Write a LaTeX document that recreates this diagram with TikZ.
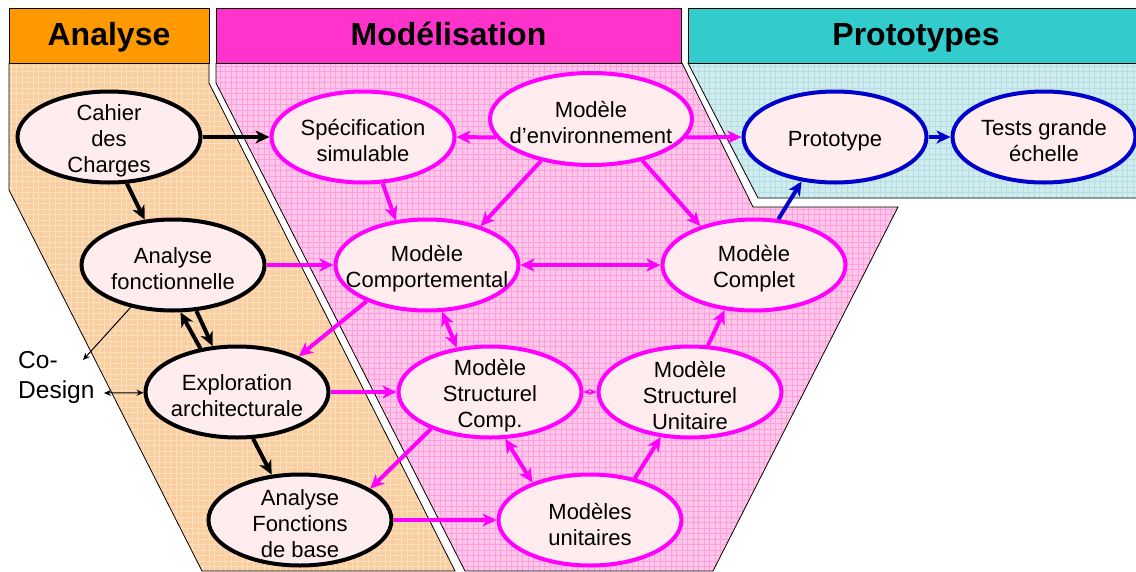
\documentclass[tikz,border=0pt]{standalone}
\usepackage{fontspec}
\setmainfont{Liberation Sans}
\usetikzlibrary{shapes.geometric, arrows.meta}

\definecolor{orangeh}{RGB}{255,153,0}
\definecolor{roseh}{RGB}{255,51,204}
\definecolor{turqh}{RGB}{51,204,204}
\definecolor{fondana}{RGB}{250,206,158}
\definecolor{grilleana}{RGB}{252,224,192}
\definecolor{fondmod}{RGB}{255,200,234}
\definecolor{grillemod}{RGB}{255,158,220}
\definecolor{fondproto}{RGB}{208,236,238}
\definecolor{grilleproto}{RGB}{180,222,226}
\definecolor{fondnoeud}{RGB}{255,236,238}
\definecolor{rosevif}{RGB}{255,0,255}
\definecolor{bleuvif}{RGB}{0,0,204}

\begin{document}
\begin{tikzpicture}[
    x=1pt, y=-1pt,
    zone/.style 2 args={draw=black, line width=0.8pt, fill=#1,
        path picture={\draw[#2, line width=0.5pt, step=5.5pt] (path picture bounding box.south west) grid (path picture bounding box.north east);}},
    entete/.style={rectangle, draw, line width=0.8pt, minimum height=55pt, inner sep=0pt, text height=24pt, text depth=5pt, font=\fontsize{32}{36}\selectfont\bfseries},
    etape/.style={ellipse, draw, line width=4pt, fill=fondnoeud, minimum width=183pt, minimum height=91pt, inner sep=0pt},
    txt/.style={align=center, inner sep=0pt, yshift=-4pt, font=\fontsize{22}{26}\selectfont},
    arrow/.style={line width=4pt, -{Stealth[length=14pt, width=13pt, inset=4pt]}},
    darrow/.style={line width=4pt, {Stealth[length=14pt, width=13pt, inset=4pt]}-{Stealth[length=14pt, width=13pt, inset=4pt]}},
    fine/.style={line width=1pt, -{Stealth[length=7pt, width=6pt]}},
    dfine/.style={line width=1pt, {Stealth[length=7pt, width=6pt]}-{Stealth[length=7pt, width=6pt]}}
]
\useasboundingbox (0,0) rectangle (1136,571);

% Zones
\path [zone={fondana}{grilleana}] (9,63) -- (209,63) -- (209,83) -- (455,571) -- (202,571) -- (9,190) -- cycle;
\path [zone={fondmod}{grillemod}] (216,63) -- (682,63) -- (753,207) -- (898,207) -- (713,571) -- (465,571) -- (216,83) -- cycle;
\path [zone={fondproto}{grilleproto}] (688,63) -- (1144,63) -- (1144,198) -- (758,198) -- cycle;

\node (hana) [entete, fill=orangeh, minimum width=200pt] at (109,35.5) {Analyse};
\node (hmod) [entete, fill=roseh, minimum width=465pt] at (448.5,35.5) {Modélisation};
\node (hproto) [entete, fill=turqh, minimum width=456pt] at (916,35.5) {Prototypes};

% Nodes
\node (cdc) [etape, draw=black, label={[txt]center:Cahier\\des\\Charges}] at (109,137) {};
\node (af) [etape, draw=black, label={[txt]center:Analyse\\fonctionnelle}] at (173,265) {};
\node (expl) [etape, draw=black, label={[txt]center:Exploration\\architecturale}] at (237,392) {};
\node (afb) [etape, draw=black, label={[txt]center:Analyse\\Fonctions\\de base}] at (300,520) {};

\node (spec) [etape, draw=rosevif, label={[txt]center:Spécification\\simulable}] at (363,137) {};
\node (env) [etape, draw=rosevif, minimum width=202pt, minimum height=92pt, label={[txt]center:Modèle\\d’environnement}] at (591,119) {};
\node (mc) [etape, draw=rosevif, label={[txt]center:Modèle\\Comportemental}] at (427,265) {};
\node (mcompl) [etape, draw=rosevif, label={[txt]center:Modèle\\Complet}] at (754,265) {};
\node (msc) [etape, draw=rosevif, label={[txt]center:Modèle\\Structurel\\Comp.}] at (490,392) {};
\node (msu) [etape, draw=rosevif, label={[txt]center:Modèle\\Structurel\\Unitaire}] at (690,392) {};
\node (mu) [etape, draw=rosevif, label={[txt]center:Modèles\\unitaires}] at (590,520) {};

\node (proto) [etape, draw=bleuvif, label={[txt]center:Prototype}] at (835,137) {};
\node (tests) [etape, draw=bleuvif, label={[txt]center:Tests grande\\échelle}] at (1044,137) {};

\node (codesign) [anchor=north west, align=left, inner sep=0pt, font=\fontsize{24.5}{30}\selectfont] at (18,351) {Co-\\Design};
\coordinate (cotip) at (83,360);
\coordinate (dtip) at (104,393);

% Arrows
\draw [arrow] (cdc) -- (spec);
\draw [arrow] (cdc.291) -- (af.122);
\draw [arrow] (expl.130) -- (af.279);
\draw [arrow] (af.297) -- (expl.118);
\draw [arrow] (expl.289) -- (afb.122);
\draw [fine] (af.225) -- (cotip);
\draw [dfine] (dtip) -- (expl);

\draw [arrow, rosevif] (af) -- (mc);
\draw [arrow, rosevif] (expl) -- (msc);
\draw [arrow, rosevif] (afb) -- (mu);
\draw [arrow, rosevif] (env.191) -- (spec.east);
\draw [arrow, rosevif] (env.349) -- (proto.west);
\draw [arrow, rosevif] (env.220) -- (mc.36);
\draw [arrow, rosevif] (env.321) -- (mcompl.144);
\draw [arrow, rosevif] (spec.293) -- (mc.125);
\draw [darrow, rosevif] (mc) -- (mcompl);
\draw [arrow, rosevif] (mc.211) -- (expl.30);
\draw [darrow, rosevif] (mc.288) -- (msc.127);
\draw [dfine, rosevif] (msc) -- (msu);
\draw [arrow, rosevif] (msu.69) -- (mcompl.237);
\draw [arrow, rosevif] (msc.212) -- (afb.24);
\draw [darrow, rosevif] (msc.288) -- (mu.147);
\draw [arrow, rosevif] (mu.43) -- (msu.237);

\draw [arrow, bleuvif] (mcompl.62) -- (proto.233);
\draw [arrow, bleuvif] (proto) -- (tests);

\end{tikzpicture}
\end{document}
